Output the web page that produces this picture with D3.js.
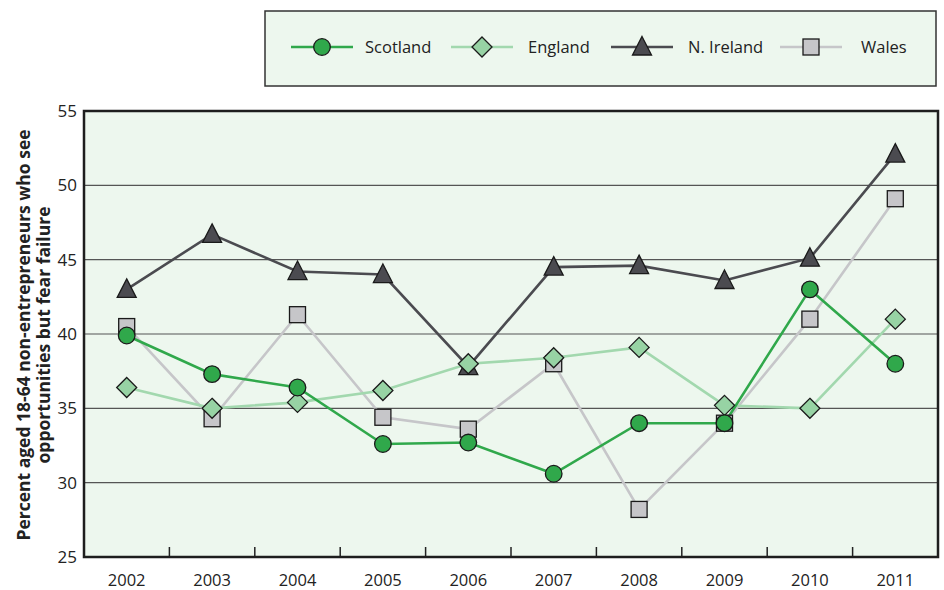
<!DOCTYPE html>
<html><head><meta charset="utf-8">
<script src="https://cdn.jsdelivr.net/npm/d3@7"></script>
<style>body{margin:0;background:#fff;} svg{display:block;font-family:"Open Sans",sans-serif;}</style>
</head><body>
<svg id="c" width="944" height="590"></svg>
<script>
const years = ["2002","2003","2004","2005","2006","2007","2008","2009","2010","2011"];
const scotland = [39.9,37.3,36.4,32.6,32.7,30.6,34.0,34.0,43.0,38.0];
const england  = [36.4,35.0,35.4,36.2,38.0,38.4,39.1,35.2,35.0,41.0];
const nireland = [43.0,46.7,44.2,44.0,37.8,44.5,44.6,43.6,45.1,52.1];
const wales    = [40.5,34.3,41.3,34.4,33.6,38.0,28.2,34.0,41.0,49.1];
const yTicks = [25,30,35,40,45,50,55];
const seriesNames = ["Scotland","England","N. Ireland","Wales"];

const series = [
  {name:seriesNames[0], values:scotland, line:"#30a84b", fill:"#30a84b", shape:"circle"},
  {name:seriesNames[1], values:england,  line:"#a2d8ae", fill:"#97d3a4", shape:"diamond"},
  {name:seriesNames[2], values:nireland, line:"#4b4b50", fill:"#4b4b50", shape:"triangle"},
  {name:seriesNames[3], values:wales,    line:"#c6c6c9", fill:"#c6c6c9", shape:"square"}
];

const svg = d3.select("#c");
const L=84, R=938, T=111, B=557;
const x = d3.scaleBand().domain(years).range([L,R]);
const y = d3.scaleLinear().domain([25,55]).range([B,T]);
const cx = d => x(d)+x.bandwidth()/2;

// plot background
svg.append("rect").attr("x",L).attr("y",T).attr("width",R-L).attr("height",B-T).attr("fill","#edf7ee");

// grid
svg.append("g").selectAll("line").data(yTicks.filter(v=>v>25&&v<55)).join("line")
  .attr("x1",L).attr("x2",R).attr("y1",d=>y(d)).attr("y2",d=>y(d))
  .attr("stroke","#555").attr("stroke-width",1.2);

// y tick labels
svg.append("g").selectAll("text").data(yTicks).join("text")
  .attr("x",77).attr("y",d=>y(d)).attr("dy","0.35em").attr("text-anchor","end")
  .attr("font-size",17).attr("fill","#222").text(d=>d);

// x axis ticks (inside, between categories)
const xb = years.slice(1).map(d=>x(d));
svg.append("g").selectAll("line").data(xb).join("line")
  .attr("x1",d=>d).attr("x2",d=>d).attr("y1",B).attr("y2",B-10)
  .attr("stroke","#222").attr("stroke-width",1.5);
svg.append("g").selectAll("text").data(years).join("text")
  .attr("x",d=>cx(d)).attr("y",585.5).attr("text-anchor","middle")
  .attr("font-size",16.5).attr("fill","#222").text(d=>d);

// frame
svg.append("rect").attr("x",L).attr("y",T).attr("width",R-L).attr("height",B-T)
  .attr("fill","none").attr("stroke","#1e1e1e").attr("stroke-width",2.5);

// y title
const yt = svg.append("text").attr("transform","translate(0,335) rotate(-90)")
  .attr("text-anchor","middle").attr("font-weight","bold").attr("font-size",17.5).attr("fill","#222");
yt.append("tspan").attr("x",0).attr("y",30).text("Percent aged 18-64 non-entrepreneurs who see");
yt.append("tspan").attr("x",0).attr("y",49.5).text("opportunities but fear failure");

function drawMarker(g, shape, px, py, fill, scale=1){
  const s = scale;
  if(shape==="circle") g.append("circle").attr("cx",px).attr("cy",py).attr("r",8.3*s);
  else if(shape==="diamond") g.append("path").attr("d",`M${px},${py-10*s}L${px+10*s},${py}L${px},${py+10*s}L${px-10*s},${py}Z`);
  else if(shape==="triangle") g.append("path").attr("d",`M${px},${py-10.5*s}L${px+9.5*s},${py+8*s}L${px-9.5*s},${py+8*s}Z`);
  else g.append("rect").attr("x",px-8*s).attr("y",py-8*s).attr("width",16*s).attr("height",16*s);
  g.selectAll(":last-child").attr("fill",fill).attr("stroke","#1a1a1a").attr("stroke-width",1.3);
}

const line = d3.line().x((d,i)=>cx(years[i])).y(d=>y(d));
// draw order: Wales, N. Ireland, England, Scotland (Scotland on top)
const order = [3,2,1,0];
order.forEach(k=>{
  const s = series[k];
  svg.append("path").datum(s.values).attr("d",line).attr("fill","none")
    .attr("stroke",s.line).attr("stroke-width",2.6);
});
order.forEach(k=>{
  const s = series[k];
  const g = svg.append("g");
  s.values.forEach((v,i)=>drawMarker(g, s.shape, cx(years[i]), y(v), s.fill));
});

// legend
svg.append("rect").attr("x",265).attr("y",11).attr("width",671).attr("height",75)
  .attr("fill","#edf7ee").attr("stroke","#333").attr("stroke-width",1.5);
const legX = [322,482,642,811];
const legText = [365,528,688,861];
series.forEach((s,i)=>{
  const g = svg.append("g");
  g.append("line").attr("x1",legX[i]-31).attr("x2",legX[i]+31).attr("y1",47).attr("y2",47)
    .attr("stroke",s.line).attr("stroke-width",2.6);
  drawMarker(g, s.shape, legX[i], 47, s.fill);
  svg.append("text").attr("x",legText[i]).attr("y",47).attr("dy","0.35em")
    .attr("font-size",16.5).attr("fill","#222").text(s.name);
});
</script>
</body></html>
